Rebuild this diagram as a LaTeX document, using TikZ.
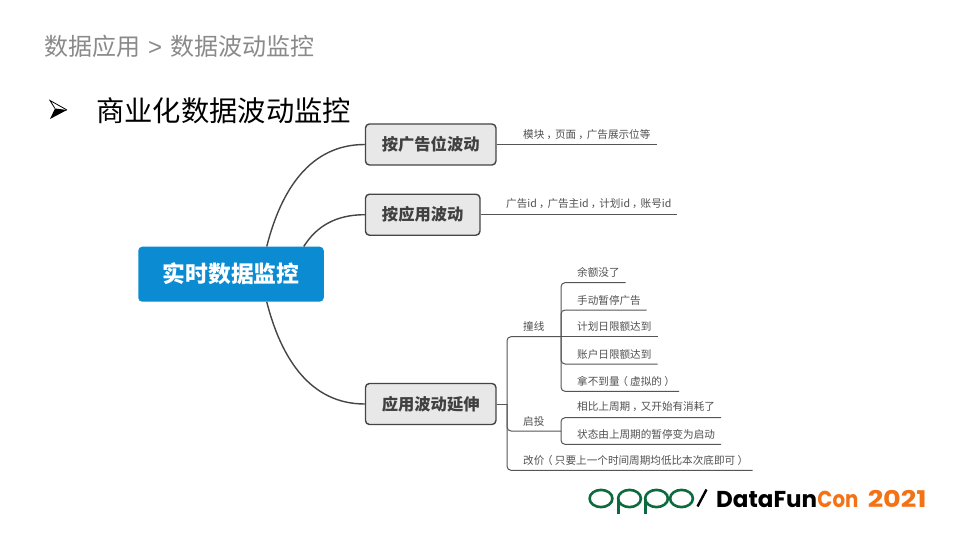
\documentclass[tikz,border=0pt]{standalone}
\usepackage{fontspec}
\setmainfont{Noto Sans CJK SC}
\newfontfamily\latinlogo{Poppins}
\newfontfamily\latintitle{Liberation Sans}
\usetikzlibrary{calc}
\definecolor{boxfill}{HTML}{E8E8E8}
\definecolor{boxline}{HTML}{454545}
\definecolor{rootblue}{HTML}{0A8BD2}
\definecolor{leaftext}{HTML}{505050}
\definecolor{leafline}{HTML}{555555}
\definecolor{titlegrey}{HTML}{8A8A8A}
\definecolor{oppogreen}{HTML}{0B6B3F}
\definecolor{dforange}{HTML}{F47216}
% full-width punctuation centred in its em, as in the reference
\newcommand{\cma}{\hspace{.2em}，\hspace{-.2em}}
\newcommand{\lpr}{\hspace{-.22em}（\hspace{.22em}}
\newcommand{\rpr}{\hspace{.22em}）\hspace{-.22em}}
\tikzset{
  x=1pt,y=-1pt,
  rootbox/.style={fill=rootblue,rounded corners=4pt,inner sep=0pt,minimum width=185.5pt,minimum height=55pt,text=white,font=\fontsize{22.8}{24}\selectfont\bfseries},
  midbox/.style={draw=boxline,fill=boxfill,line width=1.4pt,rounded corners=4pt,inner sep=0pt,minimum height=41pt,text=black!75,font=\fontsize{16.3}{18}\selectfont\bfseries},
  branch/.style={draw=boxline,line width=1.4pt},
  twig/.style={draw=leafline,line width=1pt,rounded corners=4pt},
  leaf/.style={anchor=west,inner sep=0pt,text=leaftext,font=\fontsize{10.6}{12}\selectfont},
  logotext/.style={anchor=base west,inner sep=0pt,font=\fontsize{23}{24}\latinlogo\bfseries},
  oppostroke/.style={draw=oppogreen,line width=2.6pt},
}
\begin{document}
\begin{tikzpicture}
\path[use as bounding box,fill=white] (0,0) rectangle (960,540);
% headings
\node[anchor=west,inner sep=0pt,text=titlegrey,font=\fontsize{24}{26}\selectfont] (title) at (44,46.3) {数据应用\hspace{8pt}{\latintitle >}\hspace{8pt}数据波动监控};
\fill[black] (50,119) -- (67,110) -- (55,108.5) -- cycle;
\draw[black,line width=.8pt,line join=miter] (55,108.5) -- (50,100.5) -- (67,110);
\node[anchor=west,inner sep=0pt,font=\fontsize{28.3}{30}\selectfont] (sub) at (96,111) {商业化数据波动监控};
% main nodes
\node[rootbox] (root) at (231,274.2) {\raisebox{-.7pt}{实时数据监控}};
\node[midbox,minimum width=130.5pt] (b1) at (430.7,144.5) {\raisebox{-.7pt}{按广告位波动}};
\node[midbox,minimum width=114.5pt] (b2) at (422.7,214.7) {\raisebox{-.7pt}{按应用波动}};
\node[midbox,minimum width=130.5pt] (b3) at (430.7,404) {\raisebox{-.7pt}{应用波动延伸}};
% root connectors
\draw[branch] ($(root.north west)+(128.7,0)$) .. controls (281,190) and (310,144.5) .. (b1.west);
\draw[branch] ($(root.north west)+(165.7,0)$) .. controls (316,227) and (335,214.7) .. (b2.west);
\draw[branch] ($(root.south west)+(128.7,0)$) .. controls (281,358) and (310,404) .. (b3.west);
% first two branches
\node[leaf] (t1) at (523,134.5) {模块\cma 页面\cma 广告展示位等};
\coordinate (t1e) at (657,144.5);
\draw[twig] (b1.east) -- (t1e);
\node[leaf] (t2) at (506,204) {广告id\cma 广告主id\cma 计划id\cma 账号id};
\coordinate (t2e) at (677,214.7);
\draw[twig] (b2.east) -- (t2e);
% third branch
\coordinate (j3) at (507,404);
\node[leaf] (zx) at (523,326.5) {撞线};
\node[leaf] (qt) at (523,421.5) {启投};
\node[leaf] (gj) at (523,460.5) {改价\lpr 只要上一个时间周期均低比本次底即可\rpr};
\coordinate (zxe) at (561,336.7);
\coordinate (qte) at (561,431);
\coordinate (gje) at (752.7,470.3);
\draw[twig] (b3.east) -- (j3);
\draw[twig] (zxe) -| (j3) |- (qte);
\draw[twig] (j3) |- (gje);
% leaves of zhuangxian
\node[leaf] (a1) at (577,272.5) {余额没了};
\node[leaf] (a2) at (577,300) {手动暂停广告};
\node[leaf] (a3) at (577,326.5) {计划日限额达到};
\node[leaf] (a4) at (577,354) {账户日限额达到};
\node[leaf] (a5) at (577,381.5) {拿不到量\lpr 虚拟的\rpr};
\coordinate (a1e) at (625.7,282.7);
\coordinate (a2e) at (646.7,310);
\coordinate (a3e) at (657.7,336.7);
\coordinate (a4e) at (657.7,364);
\coordinate (a5e) at (679,391.3);
\draw[twig] (zxe) |- (a1e);
\draw[twig] (zxe) |- (a2e);
\draw[twig] (zxe) -- (a3e);
\draw[twig] (zxe) |- (a4e);
\draw[twig] (zxe) |- (a5e);
% leaves of qitou
\node[leaf] (c1) at (577,407) {相比上周期\cma 又开始有消耗了};
\node[leaf] (c2) at (577,434.5) {状态由上周期的暂停变为启动};
\coordinate (c1e) at (721,417.7);
\coordinate (c2e) at (721,444.3);
\draw[twig] (qte) |- (c1e);
\draw[twig] (qte) |- (c2e);
% logo
\draw[oppostroke] (601,498.5) ellipse [x radius=11.4,y radius=8.6];
\draw[oppostroke] (629.5,498.5) ellipse [x radius=11.4,y radius=8.6];
\draw[oppostroke] (618.3,498.5) -- (618.3,514);
\draw[oppostroke] (656.5,498.5) ellipse [x radius=11.4,y radius=8.6];
\draw[oppostroke] (645.3,498.5) -- (645.3,514);
\draw[oppostroke] (681.5,498.5) ellipse [x radius=11.4,y radius=8.6];
\draw[line width=2.4pt,black] (697.5,506.5) -- (706.5,489.5);
\node[logotext] (df) at (716,507) {DataFun};
\node[logotext,text=dforange,xscale=.86] (dc) at (df.base east) {Con};
\node[logotext,text=dforange,xscale=1.18] (yr) at (867.5,507) {2021};
\end{tikzpicture}
\end{document}
